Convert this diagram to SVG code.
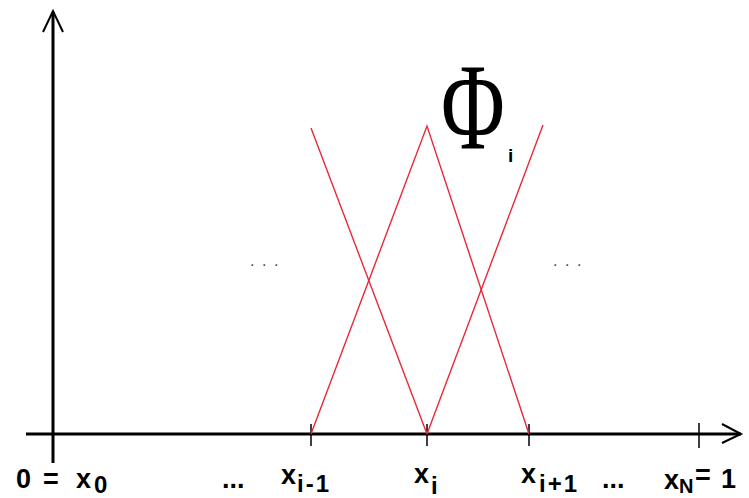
<svg xmlns="http://www.w3.org/2000/svg" width="749" height="498" viewBox="0 0 749 498">
<style>
.ax{stroke:#000;stroke-width:3;fill:none}
.tk{stroke:#000;stroke-width:1.5;fill:none}
.hd{stroke:#000;stroke-width:2;fill:none}
.rd{stroke:#e8283a;stroke-width:1.4;fill:none}
.lb{font-family:"Liberation Sans",Arial,sans-serif;font-weight:bold;font-size:27px;fill:#000}
.sb{font-family:"Liberation Sans",Arial,sans-serif;font-weight:bold;font-size:24px;fill:#000;letter-spacing:2px}
.dt{font-family:"Liberation Sans",Arial,sans-serif;font-size:16px;fill:#444;letter-spacing:7.5px}
</style>
<rect width="749" height="498" fill="#fff"/>
<g id="connectors">
<g id="axes">
<line class="ax" x1="53" y1="12" x2="53" y2="463"/>
<polyline class="hd" points="43,32 53,11 63,32"/>
<line class="ax" x1="26" y1="434" x2="741" y2="434"/>
<polyline class="hd" points="722,424 741,434 722,443"/>
<line class="tk" x1="311" y1="424" x2="311" y2="446"/>
<line class="tk" x1="427" y1="424" x2="427" y2="446"/>
<line class="tk" x1="529" y1="424" x2="529" y2="446"/>
<line class="tk" x1="699" y1="423" x2="699" y2="448"/>
</g>
<g id="hats">
<line class="rd" x1="311" y1="128" x2="427" y2="434"/>
<polyline class="rd" points="311,434 427,126 529,434"/>
<line class="rd" x1="427" y1="434" x2="543" y2="125"/>
</g>
</g>
<g id="phi-label">
<text x="441" y="148" transform="translate(441 148) scale(0.71 1) translate(-441 -148)" font-family="'Liberation Serif','Times New Roman',serif" font-size="123" fill="#000">Φ</text>
<text x="508" y="162" font-family="'Liberation Sans',Arial,sans-serif" font-weight="bold" font-size="19" fill="#000">i</text>
</g>
<g id="dots">
<text class="dt" x="250" y="266">...</text>
<text class="dt" x="553" y="266">...</text>
</g>
<g id="labels">
<text class="lb" x="16" y="488">0</text>
<text class="lb" x="43" y="488">=</text>
<text class="lb" x="76" y="488">x</text>
<text class="sb" x="94" y="493">0</text>
<text class="lb" x="222" y="488">...</text>
<text class="lb" x="281" y="484">x</text>
<text class="sb" x="297" y="492">i-1</text>
<text class="lb" x="414" y="483">x</text>
<text class="sb" x="431" y="494">i</text>
<text class="lb" x="521" y="483">x</text>
<text class="sb" x="539" y="492">i+1</text>
<text class="lb" x="602" y="488">...</text>
<text class="lb" x="664" y="489">x</text>
<text class="sb" x="679" y="493" style="font-size:20px;letter-spacing:0">N</text>
<text class="lb" x="695" y="484">=</text>
<text class="lb" x="721" y="488">1</text>
</g>
</svg>
